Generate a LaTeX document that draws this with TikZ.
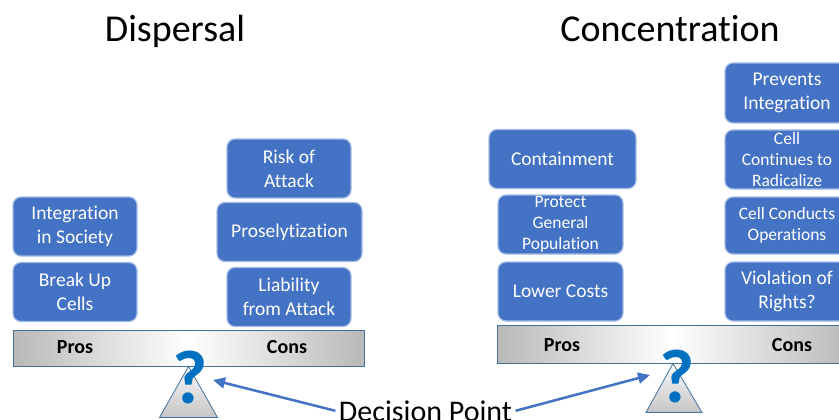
\documentclass[tikz,border=0pt]{standalone}
\usepackage{fontspec}
\setmainfont{Carlito}[Ligatures=NoCommon]
\usetikzlibrary{arrows.meta}
\definecolor{boxblue}{HTML}{4472C4}
\definecolor{boxline}{HTML}{A3BBE6}
\definecolor{qblue}{HTML}{0070C0}
\definecolor{edgeblue}{HTML}{41719C}

\begin{document}
\begin{tikzpicture}[x=1pt,y=-1pt,
	item/.style={draw=boxline, line width=1.2pt, fill=boxblue, rounded corners=8pt, text=white, align=center, inner sep=0pt, minimum width=124pt, minimum height=59pt, font=\fontsize{19.5}{24}\selectfont},
	small/.style={font=\fontsize{17.5}{21}\selectfont},
	beam/.style={draw=edgeblue, line width=1pt, left color=gray!55, right color=gray!55, middle color=white, minimum height=36pt, inner sep=0pt},
	pivot/.style={draw=edgeblue, line width=0.8pt, top color=gray!5, bottom color=gray!45},
	side/.style={font=\fontsize{20}{24}\selectfont\bfseries},
	ask/.style={text=qblue, font=\fontsize{76}{76}\selectfont\bfseries, inner sep=0pt},
	title/.style={font=\fontsize{38}{44}\selectfont, anchor=base},
	pointer/.style={-{Triangle[length=12pt,width=11pt]}, draw=boxblue, line width=2.5pt}]
	\clip (0,0) rectangle (839,420);

	% Drawing the titles
	\node[title] (T1) at (175,42) {Dispersal};
	\node[title] (T2) at (670,42) {Concentration};

	% Drawing the dispersal side
	\node[item] (P1) at (75,226.5) {Integration\\in Society};
	\node[item] (P2) at (75,292) {Break Up\\Cells};
	\node[item] (C1) at (289,168.5) {Risk of\\Attack};
	\node[item, minimum width=145pt] (C2) at (289.5,232) {Proselytization};
	\node[item] (C3) at (289,297) {Liability\\from Attack};

	% Drawing the concentration side
	\node[item, minimum width=147pt] (P3) at (562.5,159) {Containment};
	\node[item, small, minimum width=125pt] (P4) at (560.5,224.5) {Protect\\General\\Population};
	\node[item, minimum width=125pt] (P5) at (560.5,291.5) {Lower Costs};
	\node[item, minimum height=60pt] (C4) at (787,93) {Prevents\\Integration};
	\node[item, small] (C5) at (787,159.5) {Cell\\Continues to\\Radicalize};
	\node[item, small, minimum height=57pt] (C6) at (787,225.5) {Cell Conducts\\Operations};
	\node[item] (C7) at (787,291.5) {Violation of\\Rights?};

	% Drawing the scales
	\node[beam, minimum width=351pt] (B1) at (188.5,348) {};
	\node[beam, minimum width=352pt, minimum height=38pt] (B2) at (673,344) {};
	\draw[pivot] (B1.south) -- ++(-29,51) -- ++(58,0) -- cycle;
	\draw[pivot] (B2.south) -- ++(-27,49) -- ++(56,0) -- cycle;
	\node[side] (L1) at (75,347) {Pros};
	\node[side] (R1) at (287,347) {Cons};
	\node[side] (L2) at (562,345) {Pros};
	\node[side] (R2) at (792,345) {Cons};
	\node[ask] (Q1) at (190,378) {?};
	\node[ask] (Q2) at (677,377) {?};

	% Drawing the decision point arrows
	\coordinate (A1) at (213,380);
	\coordinate (A2) at (650,375);
	\node[font=\fontsize{30}{36}\selectfont, anchor=base] (D) at (425.5,421) {Decision Point};
	\draw[pointer] (D.west) -- (A1);
	\draw[pointer] (D.east) -- (A2);
\end{tikzpicture}
\end{document}
